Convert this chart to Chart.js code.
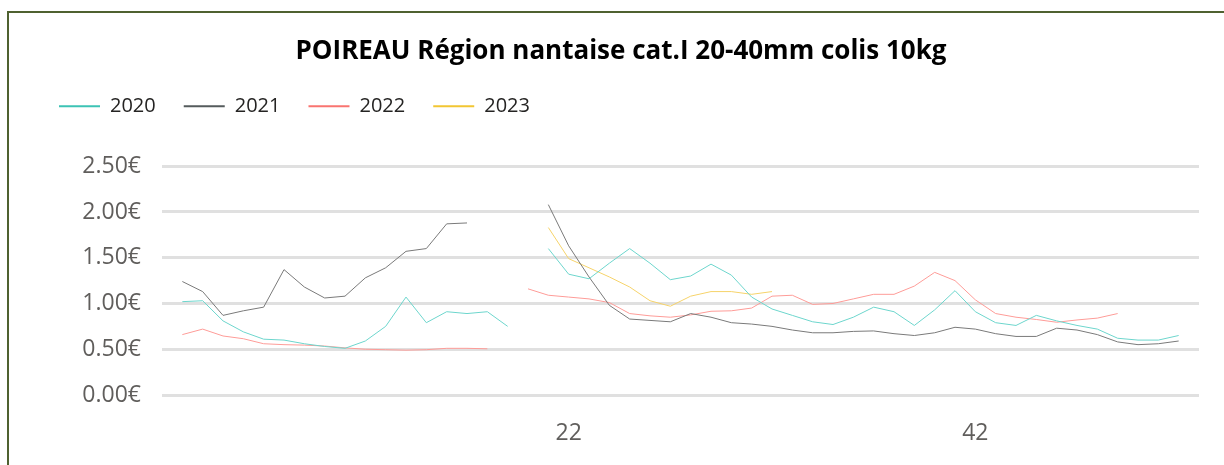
<!DOCTYPE html>
<html>
<head>
<meta charset="utf-8">
<script src="https://cdn.jsdelivr.net/npm/chart.js@4"></script>
<style>
  html, body { margin: 0; padding: 0; background: #ffffff; overflow: hidden; }
  #frame { position: absolute; left: 7px; top: 11px; width: 1400px; height: 700px;
           border-top: 2px solid #4f6130; border-left: 2px solid #4f6130; }
  #c { position: absolute; left: 0; top: 0; }
</style>
</head>
<body>
<div id="frame"></div>
<canvas id="c" width="1224" height="465"></canvas>
<script>
// Week numbers (categories)
const weeks = [3,4,5,6,7,8,9,10,11,12,13,14,15,16,17,18,19,20,21,22,23,24,25,26,27,28,29,30,31,32,33,34,35,36,37,38,39,40,41,42,43,44,45,46,47,48,49,50,51,52];
// Tick labels shown on the x axis
const xTickWeeks = [22, 42];
// Y tick values
const yTicks = [0, 0.5, 1.0, 1.5, 2.0, 2.5];

const s2020 = [1.02,1.03,0.81,0.69,0.61,0.60,0.56,0.53,0.51,0.59,0.75,1.07,0.79,0.91,0.89,0.91,0.75,null,
  1.60,1.32,1.27,1.44,1.60,1.44,1.26,1.30,1.43,1.31,1.07,0.94,0.87,0.80,0.77,0.85,0.96,0.91,0.76,0.93,1.14,0.91,0.79,0.76,0.87,0.81,0.76,0.72,0.62,0.60,0.60,0.65];
const s2021 = [1.24,1.13,0.87,0.92,0.96,1.37,1.18,1.06,1.08,1.28,1.39,1.57,1.60,1.87,1.88,null,null,null,
  2.08,1.63,1.29,0.98,0.83,0.815,0.80,0.89,0.85,0.79,0.775,0.75,0.71,0.68,0.68,0.695,0.70,0.67,0.65,0.68,0.74,0.72,0.67,0.64,0.64,0.73,0.71,0.66,0.58,0.55,0.56,0.59];
const s2022 = [0.66,0.72,0.645,0.615,0.56,0.55,0.545,0.535,0.515,0.50,0.495,0.49,0.495,0.51,0.51,0.505,null,
  1.16,1.09,1.07,1.05,1.01,0.89,0.865,0.85,0.875,0.915,0.92,0.95,1.08,1.09,0.99,1.00,1.05,1.10,1.10,1.19,1.34,1.25,1.04,0.89,0.85,0.825,0.795,0.82,0.84,0.89,null,null,null];
const s2023 = [null,null,null,null,null,null,null,null,null,null,null,null,null,null,null,null,null,null,
  1.83,1.49,1.39,1.29,1.18,1.03,0.97,1.08,1.13,1.13,1.10,1.13,null,null,null,null,null,null,null,null,null,null,null,null,null,null,null,null,null,null,null,null];

const seriesNames = ['2020', '2021', '2022', '2023'];
const seriesValues = [s2020, s2021, s2022, s2023];
const lineColors = ['#6dd6cd', '#7a7a7a', '#fe9c98', '#f6d36a'];
const legendColors = ['#3cc3b5', '#555b5c', '#f97470', '#f2c633'];

const toPoints = vals => weeks.map((w, i) => ({ x: w, y: vals[i] }));

const FONT = "'Open Sans', 'Noto Sans', sans-serif";

const spacer = {
  id: 'spacer',
  beforeLayout(chart) {
    const lg = chart.legend;
    if (lg && !lg._patched) {
      const f = lg.fit;
      lg.fit = function () { f.call(this); this.height += 40; };
      lg._patched = true;
    }
  },
  afterLayout(chart) {
    if (chart.titleBlock) { chart.titleBlock.left += 12; }
  }
};

new Chart(document.getElementById('c'), {
  type: 'line',
  data: {
    datasets: seriesNames.map((n, k) => ({
      label: n,
      data: toPoints(seriesValues[k]),
      borderColor: lineColors[k],
      backgroundColor: lineColors[k],
      borderWidth: 1,
      pointRadius: 0,
      tension: 0,
      spanGaps: false
    }))
  },
  options: {
    responsive: false,
    animation: false,
    layout: { padding: { left: 31, right: 25, top: 0, bottom: 0 } },
    plugins: {
      tooltip: { enabled: false },
      title: {
        display: true,
        text: 'POIREAU Région nantaise cat.I 20-40mm colis 10kg',
        color: '#000000',
        font: { family: FONT, size: 26, weight: 'bold' },
        padding: { top: 36, bottom: 1 }
      },
      legend: {
        display: true,
        position: 'top',
        align: 'start',
        labels: {
          color: '#252423',
          font: { family: FONT, size: 20 },
          boxWidth: 41,
          boxHeight: 2,
          padding: 28,
          generateLabels(chart) {
            return chart.data.datasets.map((d, i) => ({
              text: d.label,
              fillStyle: legendColors[i],
              strokeStyle: legendColors[i],
              lineWidth: 0,
              hidden: false,
              datasetIndex: i,
              fontColor: '#252423'
            }));
          }
        }
      }
    },
    scales: {
      x: {
        type: 'linear',
        min: 2,
        max: 53,
        grid: { display: false },
        border: { display: false },
        afterBuildTicks(scale) { scale.ticks = xTickWeeks.map(v => ({ value: v })); },
        afterFit(scale) { scale.height = 70; },
        ticks: {
          color: '#605e5c',
          font: { family: FONT, size: 23 },
          padding: 17,
          maxRotation: 0,
          autoSkip: false,
          callback: v => String(v)
        }
      },
      y: {
        min: 0,
        max: 2.5,
        afterBuildTicks(scale) { scale.ticks = yTicks.map(v => ({ value: v })); },
        afterFit(scale) { scale.width = 131; },
        grid: { color: '#e0e0e0', lineWidth: 3, drawTicks: false },
        border: { display: false },
        ticks: {
          color: '#605e5c',
          font: { family: FONT, size: 23 },
          padding: 21,
          callback: v => v.toFixed(2) + '€'
        }
      }
    }
  },
  plugins: [spacer]
});
</script>
</body>
</html>
